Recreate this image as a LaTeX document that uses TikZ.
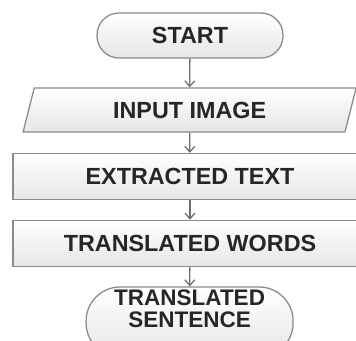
\documentclass[tikz,border=0pt]{standalone}
\usepackage{fontspec}
\setmainfont{Liberation Sans}
\usetikzlibrary{arrows.meta,shapes.geometric}
\definecolor{boxline}{HTML}{8A8A8A}
\definecolor{boxfill}{HTML}{E6E6E6}
\definecolor{boxtext}{HTML}{262626}
\definecolor{arrowgray}{HTML}{6E6E6E}

\begin{document}
\begin{tikzpicture}
\tikzset{blk/.style={draw=boxline, line width=0.9pt, top color=white, bottom color=boxfill, text=boxtext, font=\bfseries\fontsize{16.6}{14}\selectfont, align=center, inner sep=0pt}}
\tikzset{term/.style={blk, rounded corners=0.55cm}}
\tikzset{io/.style={blk, trapezium, trapezium left angle=56, trapezium right angle=124, trapezium stretches body}}

\useasboundingbox (0,0) rectangle (8.9,-8.525);

\node [term, minimum width=4.65cm, minimum height=1.125cm] (start) at (4.75,-0.8875) {START};
\node [io, minimum width=8.325cm, minimum height=1.1cm] (input) at (4.74,-2.75) {INPUT IMAGE};
\node [blk, minimum width=8.85cm, minimum height=1.15cm] (extracted) at (4.75,-4.4125) {EXTRACTED TEXT};
\node [blk, minimum width=8.85cm, minimum height=1.16cm] (words) at (4.75,-6.09) {TRANSLATED WORDS};
\node [term, rounded corners=0.85cm, minimum width=5.175cm, minimum height=1.75cm] (sentence) at (4.74,-8.05) {};
\node [text=boxtext, font=\bfseries\fontsize{16}{15.5}\selectfont, align=center, inner sep=0pt] (sentencetext) at (4.74,-7.72) {TRANSLATED\\SENTENCE};

\begin{scope}[every edge/.style={draw=arrowgray, line width=0.9pt, -{Straight Barb[length=4pt,width=7pt]}}]
\path (start) edge (input);
\path (input) edge (extracted);
\path (extracted) edge (words);
\path (words) edge (sentence);
\end{scope}

\end{tikzpicture}
\end{document}
